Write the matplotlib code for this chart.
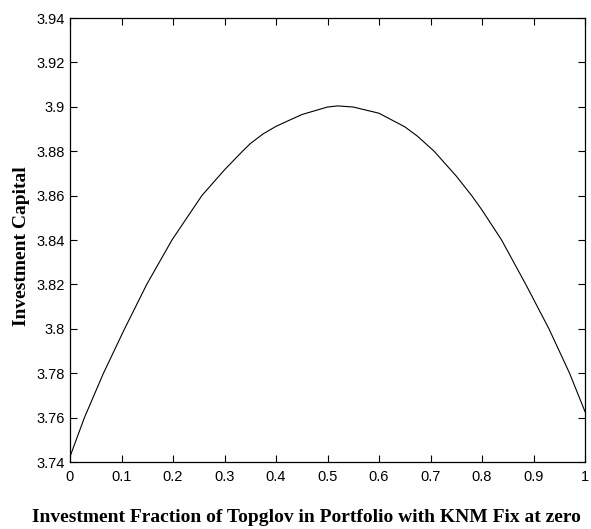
import matplotlib
matplotlib.use("Agg")
import matplotlib.pyplot as plt

# -------------------------------
# points (x where it crosses the y grid, plus a few in between)
# -------------------------------
fraction = [0.0, 0.028, 0.065, 0.106, 0.149, 0.198, 0.256, 0.30, 0.335, 0.35,
            0.375, 0.40, 0.45, 0.50, 0.52, 0.55, 0.60, 0.65, 0.675, 0.707,
            0.75, 0.78, 0.80, 0.838, 0.885, 0.93, 0.97, 1.0]
capital = [3.7424, 3.760, 3.780, 3.800, 3.820, 3.840, 3.860, 3.8716, 3.880, 3.8834,
           3.8878, 3.8912, 3.8965, 3.8999, 3.9004, 3.8999, 3.8971, 3.8910, 3.8867, 3.880,
           3.8688, 3.860, 3.8535, 3.840, 3.820, 3.800, 3.780, 3.7627]

xticks = [0, 0.1, 0.2, 0.3, 0.4, 0.5, 0.6, 0.7, 0.8, 0.9, 1]
xtick_labels = ["0", "0.1", "0.2", "0.3", "0.4", "0.5", "0.6", "0.7", "0.8", "0.9", "1"]
yticks = [3.74, 3.76, 3.78, 3.8, 3.82, 3.84, 3.86, 3.88, 3.9, 3.92, 3.94]
ytick_labels = ["3.74", "3.76", "3.78", "3.8", "3.82", "3.84", "3.86", "3.88", "3.9", "3.92", "3.94"]

# -------------------------------
# plot
# -------------------------------
fig = plt.figure(figsize=(5.91, 5.29), dpi=100)
ax = fig.add_axes([70 / 591, 1 - 462 / 529, 515 / 591, 444 / 529])

ax.plot(fraction, capital, color="black", linewidth=0.8)

ax.set_xlim(0, 1)
ax.set_ylim(3.74, 3.94)
ax.set_xticks(xticks)
ax.set_xticklabels(xtick_labels)
ax.set_yticks(yticks)
ax.set_yticklabels(ytick_labels)

ax.tick_params(direction="in", length=5, width=0.8, top=True, right=True,
               labelsize=10.5)
ax.tick_params(axis="x", pad=6)
ax.tick_params(axis="y", pad=4)
for lab in ax.get_xticklabels() + ax.get_yticklabels():
    lab.set_fontfamily("Liberation Sans")
for sp in ax.spines.values():
    sp.set_linewidth(0.9)

fig.text(306 / 591, 1 - 517 / 529, "Investment Fraction of Topglov in Portfolio with KNM Fix at zero",
         ha="center", va="center", fontsize=14, fontweight="bold", family="Liberation Serif")
fig.text(22 / 591, 1 - 246 / 529, "Investment Capital", rotation=90,
         ha="center", va="center", fontsize=14, fontweight="bold", family="Liberation Serif")

fig.savefig("out.png", dpi=100)
